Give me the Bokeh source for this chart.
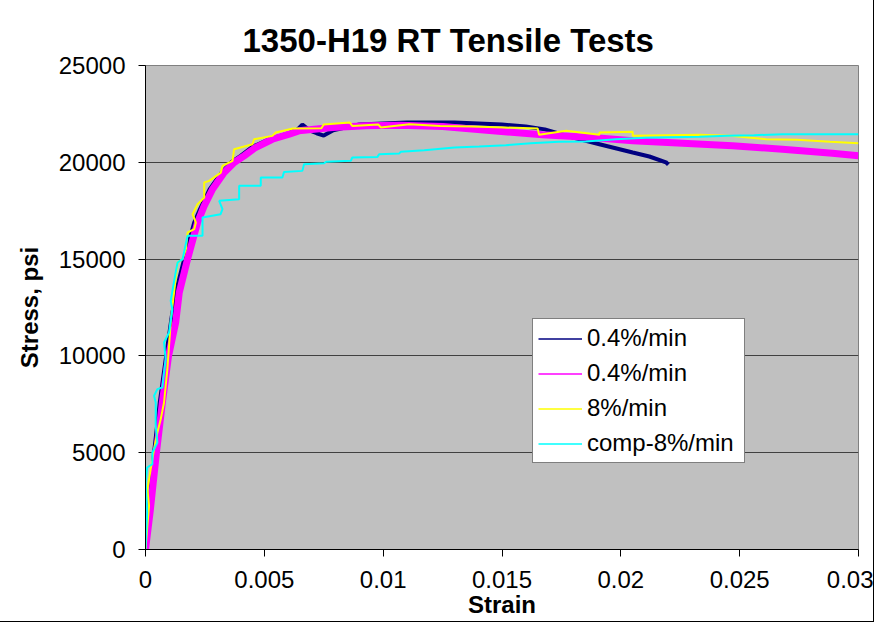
from bokeh.plotting import figure
from bokeh.models import Range1d, FixedTicker, Legend, LegendItem
from bokeh.embed import file_html
from bokeh.resources import INLINE

# ---------------- data ----------------
navy_strain = [0, 0.0001, 0.00036, 0.0006, 0.00087, 0.0011, 0.0013, 0.00163, 0.00205, 0.0023,
               0.0027, 0.0032, 0.0036, 0.0040, 0.0045, 0.0052, 0.0059, 0.0064, 0.0066,
               0.0069, 0.0072, 0.0075, 0.0079, 0.0084, 0.0090, 0.0100, 0.0110, 0.0120, 0.0130,
               0.0140, 0.0150, 0.0160, 0.0168, 0.0177, 0.0184, 0.0191, 0.0205, 0.0212, 0.0219,
               0.0220]
navy_stress = [0, 1200, 5000, 7600, 10000, 12000, 13400, 15000, 16890, 17600,
               18610, 19470, 19990, 20335, 20800, 21190, 21450, 21700, 21950,
               21650, 21500, 21380, 21650, 21800, 21950, 22000, 22050, 22050, 22050,
               22000, 21950, 21850, 21700, 21370, 21150, 20935, 20505, 20300, 20000,
               19880]

magenta_strain = [0, 0.0002, 0.00046, 0.0007, 0.00097, 0.00127, 0.00142, 0.00177, 0.00219,
                  0.00247, 0.00282, 0.00331, 0.00373, 0.00415, 0.00463, 0.00534, 0.00605,
                  0.00645, 0.00787, 0.00929, 0.01067, 0.0125, 0.0146, 0.0167, 0.0188, 0.0205,
                  0.0226, 0.0247, 0.0268, 0.0289, 0.0300]
magenta_stress = [0, 2000, 5010, 7500, 10000, 11725, 13270, 15000, 16890,
                  17750, 18610, 19470, 19990, 20335, 20763, 21190, 21450,
                  21625, 21796, 21882, 21915, 21850, 21625, 21420, 21280, 21110,
                  20985, 20850, 20675, 20470, 20335]

yellow_strain = [0, 0.00008, 0.00015, 0.00008, 0.00022, 0.00036, 0.0005, 0.00064, 0.00078,
                 0.00085, 0.00092, 0.00099, 0.00107, 0.00135, 0.00156, 0.0017, 0.00177,
                 0.00205, 0.00212, 0.00198, 0.00219, 0.00247, 0.00247, 0.00268, 0.00317,
                 0.00324, 0.00366, 0.00373, 0.0045, 0.00457, 0.00534, 0.00548, 0.0062,
                 0.0074, 0.0075, 0.0086, 0.0087, 0.0098, 0.0099, 0.0111, 0.0124, 0.0137,
                 0.0151, 0.0165, 0.01656, 0.0177, 0.0191, 0.0191, 0.0205, 0.0205, 0.0233,
                 0.0246, 0.0261, 0.0274, 0.0288, 0.0300]
yellow_stress = [0, 1240, 2257, 3115, 4148, 5181, 6043, 6730, 7593,
                 8455, 9312, 10521, 11895, 14824, 14995, 15511, 16373,
                 16545, 16890, 17320, 17835, 18180, 18956, 19043, 19470,
                 19818, 20076, 20676, 20934, 21192, 21365, 21537, 21750,
                 21760, 21950, 22050, 21880, 21950, 21800, 21960, 21880, 21850,
                 21800, 21745, 21418, 21625, 21418, 21537, 21574, 21367, 21418,
                 21367, 21192, 21160, 21057, 20985]

cyan_strain = [0, 0.00007, 0.00001, 0.00007, 0.00029, 0.00029, 0.0005, 0.00043, 0.00043,
               0.00036, 0.0005, 0.00071, 0.00078, 0.00085, 0.00078, 0.00099, 0.00107,
               0.00113, 0.00106, 0.00127, 0.00135, 0.00156, 0.00177, 0.0024, 0.0024,
               0.00316, 0.00324, 0.0031, 0.00394, 0.00394, 0.00485, 0.00485, 0.00576,
               0.00583, 0.0066, 0.00667, 0.00752, 0.0076, 0.00864, 0.0087, 0.00976,
               0.00983, 0.01067, 0.01074, 0.01173, 0.0130, 0.01404, 0.01516, 0.01621,
               0.0174, 0.01853, 0.01979, 0.02105, 0.02217, 0.0233, 0.02449, 0.02561,
               0.02681, 0.02806, 0.02933, 0.0300]
cyan_stress = [0, 1911, 3460, 4235, 4406, 5010, 5526, 6389, 7593,
               7938, 8283, 8369, 9142, 9829, 10692, 11209, 11895,
               12412, 12845, 14307, 14824, 14995, 16202, 16202, 17148,
               17320, 17577, 18010, 18093, 18783, 18783, 19214, 19214,
               19505, 19557, 19900, 19950, 20025, 20076, 20247, 20280,
               20420, 20450, 20540, 20625, 20763, 20815, 20883, 20985,
               21057, 21073, 21192, 21263, 21297, 21315, 21367, 21400,
               21450, 21450, 21450, 21450]

series_labels = ["0.4%/min", "0.4%/min", "8%/min", "comp-8%/min"]
series_colors = ["#000080", "#FF00FF", "#FFFF00", "#00FFFF"]

x_ticks = [0, 0.005, 0.01, 0.015, 0.02, 0.025, 0.03]
x_tick_labels = ["0", "0.005", "0.01", "0.015", "0.02", "0.025", "0.03"]
y_ticks = [0, 5000, 10000, 15000, 20000, 25000]

title_text = "1350-H19 RT Tensile Tests"
x_label = "Strain"
y_label = "Stress, psi"

FONT = "Liberation Sans"

# ---------------- figure ----------------
p = figure(width=873, height=621, output_backend="svg", toolbar_location=None,
           x_range=Range1d(0, 0.03), y_range=Range1d(0, 25000),
           min_border_left=145, min_border_right=15, min_border_top=65,
           min_border_bottom=72)

p.background_fill_color = "#C0C0C0"
p.border_fill_color = "white"
p.outline_line_color = "#808080"
p.outline_line_width = 1
p.styles = {"outline": "1px solid black"}

p.title.text = title_text
p.title.text_font = FONT
p.title.text_font_size = "33px"
p.title.text_font_style = "bold"
p.title.text_color = "black"
p.title.align = "left"
p.title.offset = 97
p.title.standoff = 14

# axes
p.xaxis.ticker = FixedTicker(ticks=x_ticks)
p.xaxis.major_label_overrides = {t: l for t, l in zip(x_ticks, x_tick_labels)}
p.yaxis.ticker = FixedTicker(ticks=y_ticks)
p.yaxis.major_label_overrides = {t: str(t) for t in y_ticks}

for ax in (p.xaxis[0], p.yaxis[0]):
    ax.axis_line_color = "black"
    ax.axis_line_width = 1
    ax.major_tick_line_color = "black"
    ax.major_tick_in = 0
    ax.major_tick_out = 7
    ax.minor_tick_line_color = None
    ax.major_label_text_font = FONT
    ax.major_label_text_font_size = "24px"
    ax.major_label_text_color = "black"
    ax.axis_label_text_font = FONT
    ax.axis_label_text_font_size = "24px"
    ax.axis_label_text_font_style = "bold"
    ax.axis_label_text_color = "black"

p.xaxis.axis_label = x_label
p.yaxis.axis_label = y_label
p.xaxis.major_label_standoff = 14
p.xaxis.axis_label_standoff = 0
p.yaxis.major_label_standoff = 13
p.yaxis.axis_label_standoff = 13

p.xgrid.grid_line_color = None
p.ygrid.grid_line_color = "#404040"
p.ygrid.grid_line_width = 1

# ---------------- series ----------------
p.line(navy_strain, navy_stress, line_color=series_colors[0], line_width=4)
p.line(magenta_strain, magenta_stress, line_color=series_colors[1], line_width=7)
p.line(yellow_strain, yellow_stress, line_color=series_colors[2], line_width=2)
p.line(cyan_strain, cyan_stress, line_color=series_colors[3], line_width=2)

# thin legend samples (single NaN point: nothing drawn in the plot area)
nan = float("nan")
legend_items = []
for lab, col in zip(series_labels, series_colors):
    r = p.line(x=[nan], y=[nan], line_color=col, line_width=1.5)
    legend_items.append(LegendItem(label=lab, renderers=[r]))

legend = Legend(items=legend_items, location=(387, 86), orientation="vertical",
                background_fill_color="white", background_fill_alpha=1,
                border_line_color="black", border_line_width=1,
                label_text_font=FONT, label_text_font_size="24px",
                label_text_color="black",
                glyph_width=44, glyph_height=27, label_height=27, label_width=152,
                label_standoff=5, padding=5, spacing=7, margin=0)
p.add_layout(legend, "center")

open("out.html", "w").write(file_html(p, INLINE))
